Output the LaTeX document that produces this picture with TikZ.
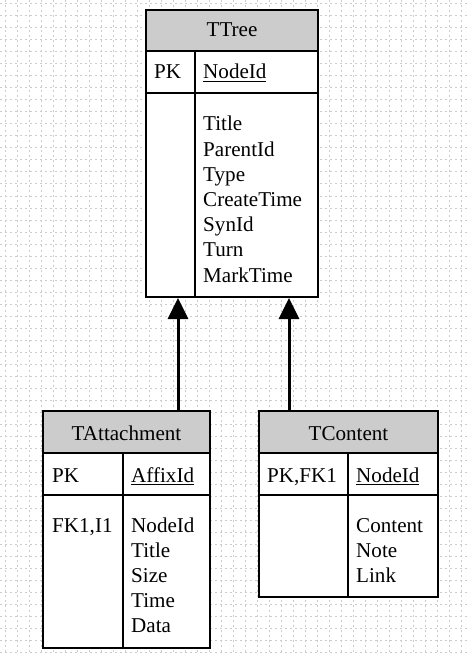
\documentclass[tikz,border=0pt]{standalone}
\usepackage{fontspec}
\setmainfont{Liberation Serif}
\usetikzlibrary{positioning,arrows.meta,fit,calc}

\begin{document}
\begin{tikzpicture}[x=0.03cm, y=0.03cm,
  grid/.style={gray!40, line width=0.03cm, dash pattern=on 0.06cm off 0.09cm},
  tbl/.style={draw, line width=0.06cm, fill=white, inner sep=0pt},
  head/.style={draw, line width=0.06cm, fill=black!20, inner sep=0pt},
  rule/.style={line width=0.06cm},
  txt/.style={inner sep=0pt, font=\fontsize{18}{21}\selectfont, anchor=base west},
  ttl/.style={inner sep=0pt, font=\fontsize{18}{21}\selectfont, anchor=base},
  arr/.style={-{Triangle[width=0.6cm, length=0.63cm]}, line width=0.09cm}
]
\fill[white] (0,0) rectangle (470,-653);
\useasboundingbox (0,0) rectangle (470,-653);

% background grid
\foreach \gx in {5,17,...,470} \draw[grid] (\gx,0) -- (\gx,-653);
\foreach \gy in {4,16,...,653} \draw[grid] (0,-\gy) -- (470,-\gy);

% TTree
\node[tbl, fit={(146,-10) (318,-297)}] (ttree) {};
\node[head, fit={(146,-10) (318,-51)}] (ttreeHead) {};
\draw[rule] (146,-93) -- (318,-93);
\draw[rule] (195,-51) -- (195,-297);
\node[ttl] (ttreeName) at (232,-37) {TTree};
\node[txt] (ttreePK) at (154,-79) {PK};
\node[txt] (ttreeKey) at (203,-79) {\underline{NodeId}};
\foreach \f [count=\i from 0] in {Title,ParentId,Type,CreateTime,SynId,Turn,MarkTime}
  \node[txt] (ttreeF\i) at (203,-131-25.17*\i) {\f};

% TAttachment
\node[tbl, fit={(43,-411) (210,-648)}] (tatt) {};
\node[head, fit={(43,-411) (210,-453)}] (tattHead) {};
\draw[rule] (43,-495) -- (210,-495);
\draw[rule] (123,-453) -- (123,-648);
\node[ttl] (tattName) at (126.5,-440) {TAttachment};
\node[txt] (tattPK) at (52,-482) {PK};
\node[txt] (tattKey) at (131,-482) {\underline{AffixId}};
\node[txt] (tattFK) at (52,-532) {FK1,I1};
\foreach \f [count=\i from 0] in {NodeId,Title,Size,Time,Data}
  \node[txt] (tattF\i) at (131,-532-25.2*\i) {\f};

% TContent
\node[tbl, fit={(259,-411) (438,-597)}] (tcont) {};
\node[head, fit={(259,-411) (438,-453)}] (tcontHead) {};
\draw[rule] (259,-495) -- (438,-495);
\draw[rule] (348,-453) -- (348,-597);
\node[ttl] (tcontName) at (348.5,-440) {TContent};
\node[txt] (tcontPK) at (267,-482) {PK,FK1};
\node[txt] (tcontKey) at (356,-482) {\underline{NodeId}};
\foreach \f [count=\i from 0] in {Content,Note,Link}
  \node[txt] (tcontF\i) at (356,-532-25.2*\i) {\f};

% relations
\coordinate (lnkA) at (178,-411);
\coordinate (lnkB) at (289,-411);
\draw[arr] (tatt.north -| lnkA) -- (ttree.south -| lnkA);
\draw[arr] (tcont.north -| lnkB) -- (ttree.south -| lnkB);

\end{tikzpicture}
\end{document}
